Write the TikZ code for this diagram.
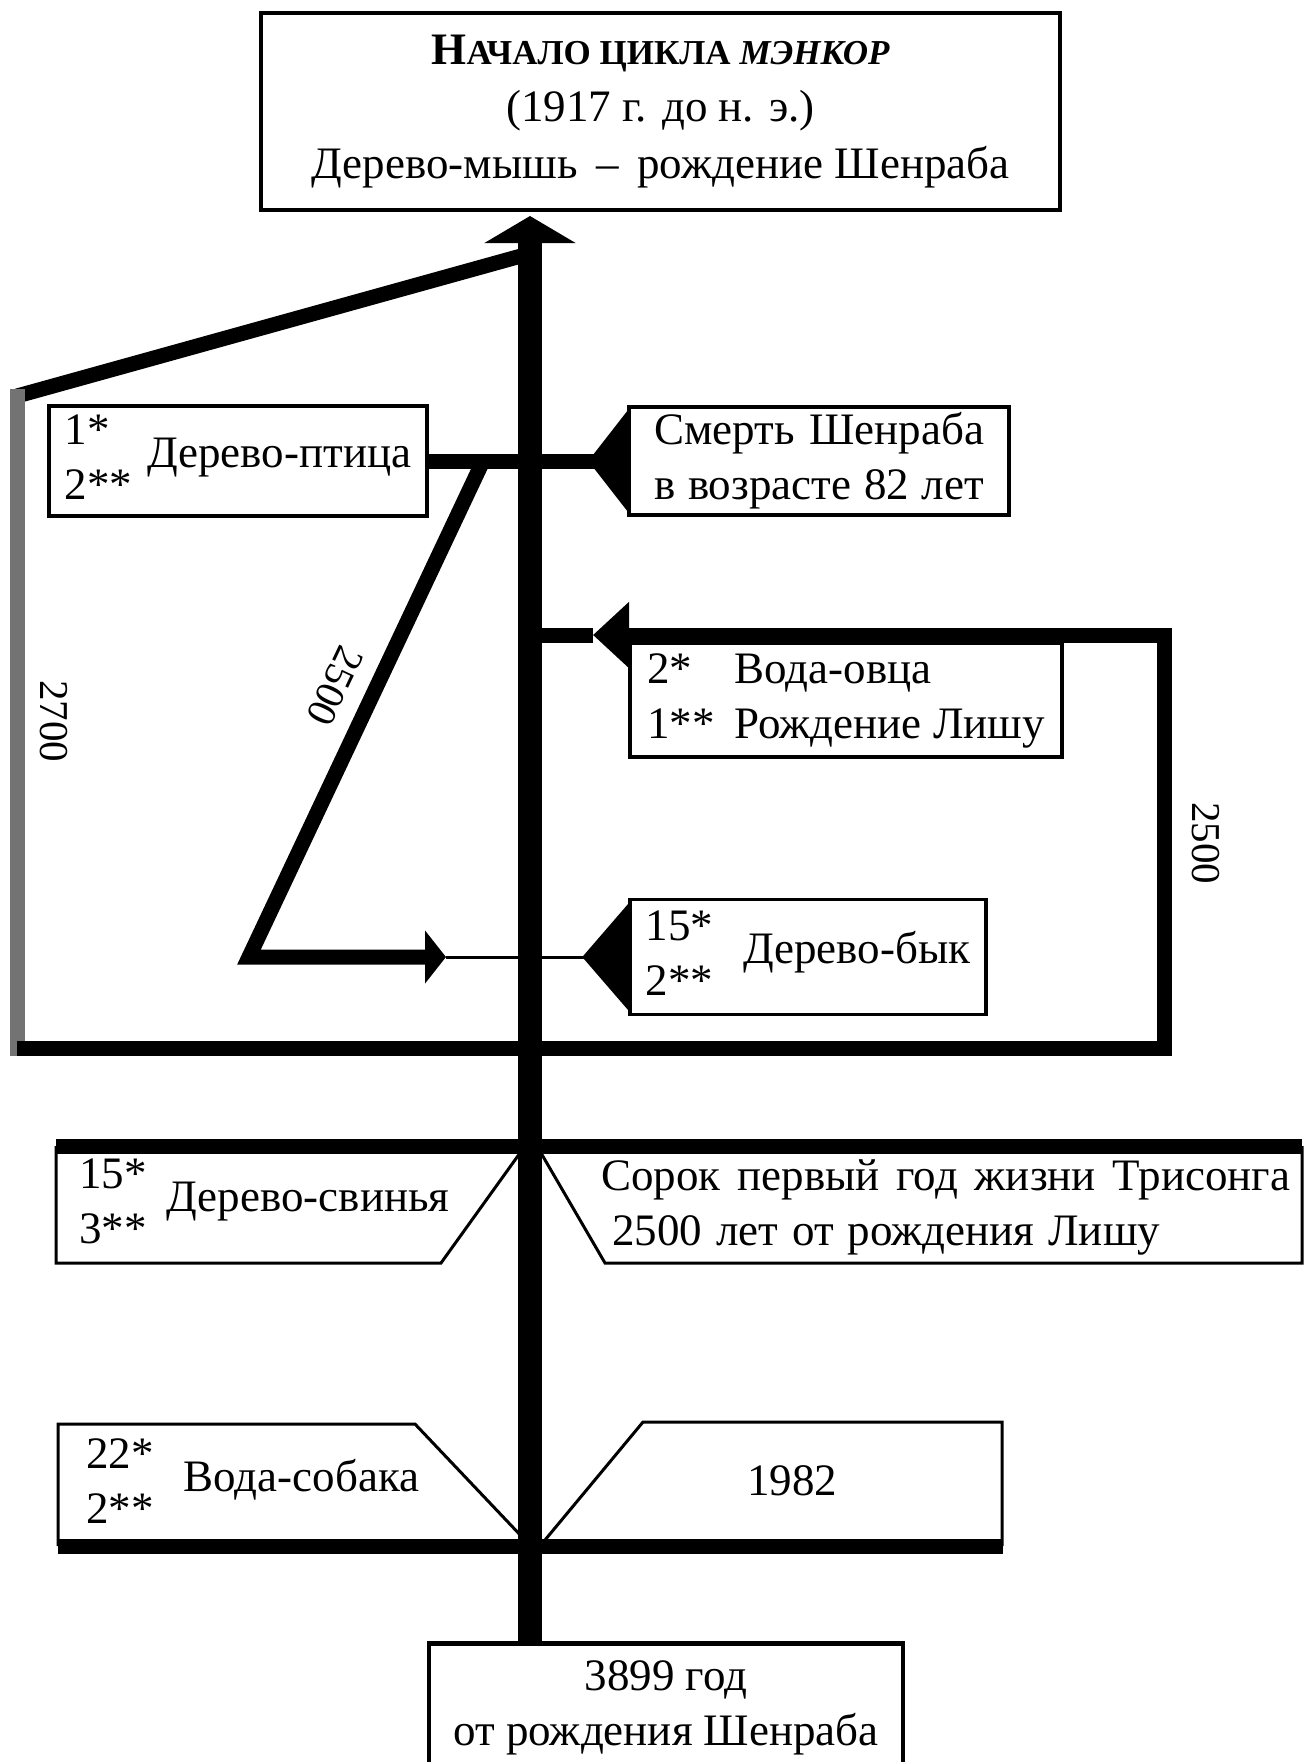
\documentclass[tikz,border=0pt]{standalone}
\usepackage{fontspec}
\setmainfont{Liberation Serif}
\usetikzlibrary{arrows.meta}
\newcommand{\counts}[2]{\begin{tabular}{@{}l@{}}#1\\#2\end{tabular}}
\tikzset{
  box/.style={draw, line width=3.5pt, inner sep=0pt},
  trunkline/.style={line width=24pt},
  thickline/.style={line width=15pt, line join=miter},
  thinline/.style={line width=3pt},
  numlabel/.style={font=\fontsize{41}{41}\selectfont, inner sep=0pt},
}
\begin{document}
\begin{tikzpicture}[x=1pt, y=-1pt, font=\fontsize{45}{55}\selectfont]
    \useasboundingbox (0,0) rectangle (1316,1762);
    \node[box, line width=4.5pt, minimum width=799pt, minimum height=197pt, align=center,
          font=\fontsize{45}{57}\selectfont] (start) at (660.5,111.5)
      {{\bfseries Н\fontsize{35}{57}\selectfont АЧАЛО ЦИКЛА \itshape МЭНКОР}\\
       (1917 г. до н. э.)\\
       Дерево-мышь \,--\, рождение Шенраба};
    \node[box, line width=4.5pt, minimum width=474pt, minimum height=130pt, align=center,
          anchor=north] (finish) at (666,1641) {3899 год\\от рождения Шенраба};
    \node[box, minimum width=378pt, minimum height=105pt] (ptica) at (238,461)
      {\counts{1*}{2**}\hspace{15pt}Дерево-птица};
    \node[box, minimum width=380pt, minimum height=108pt, align=center] (death) at (819,461)
      {\makebox[330pt][s]{Смерть Шенраба}\\\makebox[330pt][s]{в возрасте 82 лет}};
    \node[box, minimum width=432pt, minimum height=114pt] (lishu) at (846,700)
      {\begin{tabular}{@{}l@{\hspace{20pt}}l@{}}2* & Вода-овца\\1** & Рождение Лишу\end{tabular}};
    \node[box, minimum width=356pt, minimum height=115pt] (bull) at (808,957)
      {\counts{15*}{2**}\hspace{30pt}Дерево-бык};

    % ствол
    \coordinate (tip) at (530,216);
    \draw[trunkline, -{Triangle[width=90pt, length=27pt]}] (tip |- finish.north) -- (tip);

    % 2700
    \coordinate (a1) at (521,256);
    \coordinate (a2) at (17,396);
    \coordinate (a3) at (17,1048);
    \coordinate (a4) at (1164,1048);
    \coordinate (a5) at (1164,635);
    \coordinate (a6) at (593,635);
    \draw[thickline] (a1) -- (a2);
    \draw[thickline, black!55, line cap=rect] (a2) -- (a3);
    \draw[thickline, -{Triangle[width=64pt, length=36pt]}] (a3) -- (a4) -- (a5) -- (a6);
    \draw[thickline] (a6) -- (tip |- a6);
    \node[numlabel, rotate=-90] (l2700) at (54,721) {2700};
    \node[numlabel, rotate=-90] (l2500r) at (1206,843) {2500};

    \draw[thickline, -{Triangle[reversed, width=98pt, length=39pt]}] (ptica.east) -- (death.west);

    % 2500
    \coordinate (d1) at (483,461);
    \coordinate (d2) at (249,957);
    \coordinate (d3) at (446,957);
    \draw[thickline, -{Triangle[width=52pt, length=21pt]}] (d1) -- (d2) -- (d3);
    \draw[thinline, -{Triangle[reversed, width=106pt, length=46pt]}] (d3) -- (bull.west);
    \node[numlabel, rotate=-115.3] (l2500d) at (335,686) {2500};

    % Дерево-свинья
    \draw[thickline] (56,1146) -- (1302,1146);
    \draw[thinline] (56,1146) -- (56,1263) -- (441,1263) -- (520,1153);
    \draw[thinline] (541,1153) -- (605,1263) -- (1302,1263) -- (1302,1146);
    \node[anchor=west, inner sep=0pt] (svin) at (79,1205)
      {\counts{15*}{3**}\hspace{20pt}Дерево-свинья};
    \node[anchor=west, inner sep=0pt, align=left] (trisong) at (601,1207)
      {\makebox[689pt][s]{Сорок первый год жизни Трисонга}\\
       \hspace{11pt}\makebox[548pt][s]{2500 лет от рождения Лишу}};

    % Вода-собака
    \draw[thickline] (58,1546) -- (1003,1546);
    \draw[thinline] (58,1546) -- (58,1424) -- (415,1424) -- (525,1540);
    \draw[thinline] (545,1540) -- (643,1422) -- (1002,1422) -- (1002,1546);
    \node[anchor=west, inner sep=0pt] (sobaka) at (86,1485)
      {\counts{22*}{2**}\hspace{30pt}Вода-собака};
    \node[inner sep=0pt] (y1982) at (792,1481) {1982};
\end{tikzpicture}
\end{document}
